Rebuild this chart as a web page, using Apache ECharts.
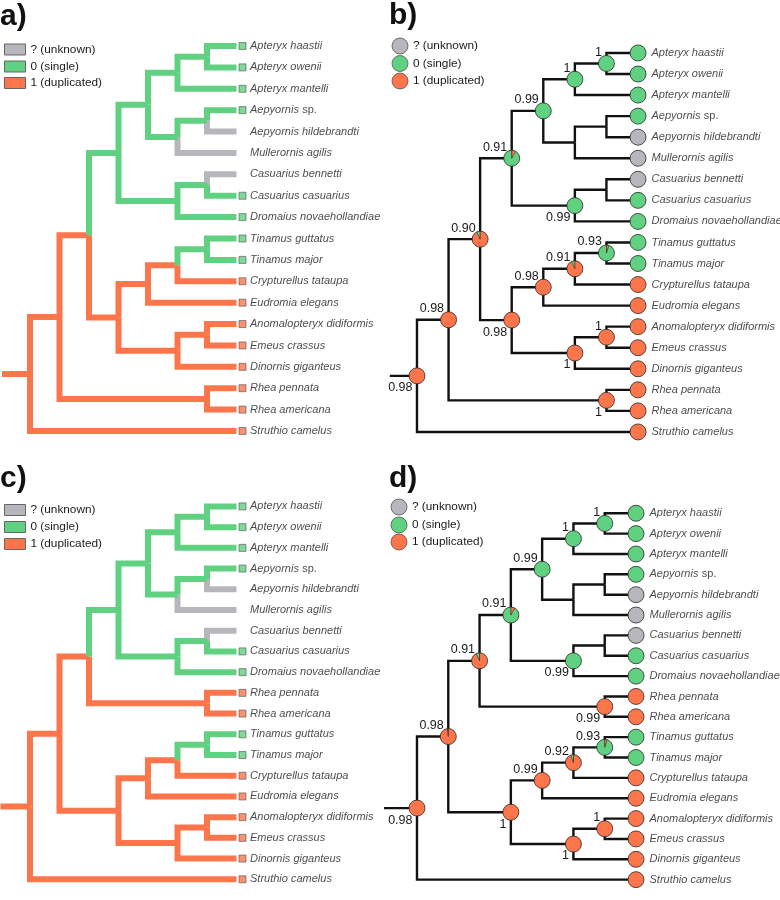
<!DOCTYPE html>
<html><head><meta charset="utf-8">
<script src="https://cdn.jsdelivr.net/npm/echarts@6/dist/echarts.min.js"></script>
<style>html,body{margin:0;padding:0;background:#fff}#c{width:780px;height:900px}</style>
</head><body><div id="c"></div>
<script>
// ---------- data ----------
const leavesAB = ["Apteryx haastii","Apteryx owenii","Apteryx mantelli","Aepyornis sp.","Aepyornis hildebrandti","Mullerornis agilis","Casuarius bennetti","Casuarius casuarius","Dromaius novaehollandiae","Tinamus guttatus","Tinamus major","Crypturellus tataupa","Eudromia elegans","Anomalopteryx didiformis","Emeus crassus","Dinornis giganteus","Rhea pennata","Rhea americana","Struthio camelus"];
const leavesCD = ["Apteryx haastii","Apteryx owenii","Apteryx mantelli","Aepyornis sp.","Aepyornis hildebrandti","Mullerornis agilis","Casuarius bennetti","Casuarius casuarius","Dromaius novaehollandiae","Rhea pennata","Rhea americana","Tinamus guttatus","Tinamus major","Crypturellus tataupa","Eudromia elegans","Anomalopteryx didiformis","Emeus crassus","Dinornis giganteus","Struthio camelus"];

const newickAB = "(((((((Apteryx haastii,Apteryx owenii)ApH,Apteryx mantelli)Apt,((Aepyornis sp.,Aepyornis hildebrandti)AepP,Mullerornis agilis)Aep)A,((Casuarius bennetti,Casuarius casuarius)CasP,Dromaius novaehollandiae)Cas)N3,((((Tinamus guttatus,Tinamus major)Tin1,Crypturellus tataupa)Tin2,Eudromia elegans)Tin3,((Anomalopteryx didiformis,Emeus crassus)Moa2,Dinornis giganteus)Moa)TM)N2,(Rhea pennata,Rhea americana)Rhea)N1,Struthio camelus)Root;";
const newickCD = "(((((((Apteryx haastii,Apteryx owenii)ApH,Apteryx mantelli)Apt,((Aepyornis sp.,Aepyornis hildebrandti)AepP,Mullerornis agilis)Aep)A,((Casuarius bennetti,Casuarius casuarius)CasP,Dromaius novaehollandiae)Cas)N3,(Rhea pennata,Rhea americana)Rhea)N2,((((Tinamus guttatus,Tinamus major)Tin1,Crypturellus tataupa)Tin2,Eudromia elegans)Tin3,((Anomalopteryx didiformis,Emeus crassus)Moa2,Dinornis giganteus)Moa)TM)N1,Struthio camelus)Root;";

const stateNames = ["? (unknown)","0 (single)","1 (duplicated)"];
const tipsSingle = ["Apteryx haastii","Apteryx owenii","Apteryx mantelli","Aepyornis sp.","Casuarius casuarius","Dromaius novaehollandiae","Tinamus guttatus","Tinamus major"];
const tipsUnknown = ["Aepyornis hildebrandti","Mullerornis agilis","Casuarius bennetti"];
const branchesSingle = ["N3","A","Apt","ApH","Aep","AepP","Cas","CasP","Tin1"];

const nodesB   = ["ApH","Apt","A","N3","Cas","N2","N1","Root","Tin1","Tin2","Tin3","TM","Moa2","Moa","Rhea"];
const supportB = ["1","1","0.99","0.91","0.99","0.90","0.98","0.98","0.93","0.91","0.98","0.98","1","1","1"];
const singleB  = [1,1,1,0.92,1,0.07,0,0,0.95,0.07,0,0,0,0,0];
const sideB    = ["a","a","a","a","b","a","a","b","a","a","a","b","a","b","b"];

const nodesD   = ["ApH","Apt","A","N3","Cas","N2","Rhea","N1","Root","TM","Tin3","Tin2","Tin1","Moa2","Moa"];
const supportD = ["1","1","0.99","0.91","0.99","0.91","0.99","0.98","0.98","1","0.99","0.92","0.93","1","1"];
const singleD  = [1,1,1,0.92,1,0.07,0,0.015,0,0,0,0.06,0.95,0,0];
const sideD    = ["a","a","a","a","b","a","b","a","b","b","a","a","a","a","b"];

// ---------- style ----------
const GREEN = '#5fd181', ORANGE = '#fd754b', GREY = '#b6b6bd';
const STATE_COL = [GREY, GREEN, ORANGE];
const FONT = '"Liberation Sans", Arial, Helvetica, sans-serif';

// ---------- tree helpers ----------
function parseNewick(s){
  let i = 0;
  function node(){
    const n = {children:[], name:''};
    if (s[i] === '('){
      i++;
      n.children.push(node());
      while (s[i] === ','){ i++; n.children.push(node()); }
      i++;
    }
    let name = '';
    while (i < s.length && !',();'.includes(s[i])) { name += s[i]; i++; }
    n.name = name.trim();
    return n;
  }
  return node();
}
function layout(newick, leaves){
  const root = parseNewick(newick);
  const list = [];
  (function rec(n, parent){
    n.parent = parent;
    if (!n.children.length){ n.h = 0; n.y = leaves.indexOf(n.name); }
    else {
      n.children.forEach(c => rec(c, n));
      n.h = 1 + Math.max(...n.children.map(c => c.h));
      n.y = n.children.reduce((s,c)=>s+c.y,0)/n.children.length;
    }
    list.push(n);
  })(root, null);
  list.forEach(n => n.x = root.h - n.h);
  return {root, list, H: root.h};
}
function tipState(name){
  if (tipsUnknown.includes(name)) return 0;
  if (tipsSingle.includes(name)) return 1;
  return 2;
}
function branchState(n){
  if (!n.children.length) return tipState(n.name);
  return branchesSingle.includes(n.name) ? 1 : 2;
}
function leafLabel(name){
  if (name.endsWith(' sp.')) return '{i|' + name.slice(0,-4) + '} {n|sp.}';
  return '{i|' + name + '}';
}

const treeAB = layout(newickAB, leavesAB);
const treeCD = layout(newickCD, leavesCD);

// ---------- panels ----------
const panels = [
  {tree: treeAB, kind:'pars', grid:{left:0.5, top:24.6, width:265.5, height:427.8}, stem:-0.95},
  {tree: treeAB, kind:'bayes', grid:{left:385.4, top:31.9, width:284.2, height:421.1}, stem:-0.86,
   nodes:nodesB, support:supportB, single:singleB, side:sideB},
  {tree: treeCD, kind:'pars', grid:{left:0.5, top:485.7, width:265.5, height:426.7}, stem:-1.0},
  {tree: treeCD, kind:'bayes', grid:{left:385.7, top:492.9, width:281.6, height:421.2}, stem:-1.08,
   nodes:nodesD, support:supportD, single:singleD, side:sideD}
];

const grids = [], xAxes = [], yAxes = [], series = [];
panels.forEach((p, k) => {
  grids.push(p.grid);
  xAxes.push({type:'value', gridIndex:k, min:-1, max:8, show:false});
  yAxes.push({type:'value', gridIndex:k, min:-1, max:19, inverse:true, show:false});
  const t = p.tree;
  const pars = p.kind === 'pars';
  // branches
  const segs = [];
  t.list.forEach(n => {
    const col = pars ? STATE_COL[branchState(n)] : '#111';
    if (n.parent){
      segs.push({coords:[[n.parent.x, n.parent.y],[n.parent.x, n.y],[n.x, n.y]], lineStyle:{color:col}});
    } else {
      segs.push({coords:[[p.stem, n.y],[n.x, n.y]], lineStyle:{color: pars ? ORANGE : '#111'}});
    }
  });
  // draw grey/other first so order stable: orange below, green above
  if (pars) segs.sort((a,b)=> (a.lineStyle.color===ORANGE?0:1) - (b.lineStyle.color===ORANGE?0:1));
  series.push({
    type:'lines', coordinateSystem:'cartesian2d', xAxisIndex:k, yAxisIndex:k, polyline:true,
    silent:true, z:1, data:segs,
    lineStyle:{width: pars ? 6 : 2.4, opacity:1, cap:'butt', join:'miter'}
  });
  const tips = t.list.filter(n => !n.children.length);
  // leaf labels
  series.push({
    type:'scatter', xAxisIndex:k, yAxisIndex:k, symbolSize:1, z:5, silent:true,
    itemStyle:{color:'rgba(0,0,0,0)'},
    data: tips.map(n => ({value:[n.x, n.y], name:n.name})),
    label:{show:true, position:'right', distance: 13, formatter: d => leafLabel(d.name),
      rich:{ i:{fontStyle:'italic', fontSize:11, fontFamily:FONT, color:'#1a1a1a'},
             n:{fontStyle:'normal', fontSize:11, fontFamily:FONT, color:'#1a1a1a'} }}
  });
  if (pars){
    const sq = tips.filter(n => tipState(n.name) !== 0);
    series.push({
      type:'scatter', xAxisIndex:k, yAxisIndex:k, symbol:'rect', symbolSize:7, symbolOffset:[6,0], z:4, silent:true,
      data: sq.map(n => ({value:[n.x, n.y], itemStyle:{color:STATE_COL[tipState(n.name)], borderColor:'#555', borderWidth:0.8}}))
    });
  } else {
    const items = [];
    tips.forEach(n => items.push({x:n.x, y:n.y, fill:STATE_COL[tipState(n.name)]}));
    p.nodes.forEach((nm, j) => {
      const n = t.list.find(m => m.name === nm);
      items.push({x:n.x, y:n.y, g:p.single[j], label:p.support[j], side:p.side[j]});
    });
    series.push({
      type:'custom', xAxisIndex:k, yAxisIndex:k, z:6, silent:true,
      data: items.map(it => [it.x, it.y]),
      renderItem: (params, api) => {
        const it = items[params.dataIndex];
        const c = api.coord([api.value(0), api.value(1)]);
        const r = 8;
        const ch = [];
        if (it.fill){
          ch.push({type:'circle', shape:{cx:c[0], cy:c[1], r}, style:{fill:it.fill, stroke:'#2a2a2a', lineWidth:0.8}});
        } else {
          const a0 = -Math.PI/2, g = it.g;
          if (g >= 1) ch.push({type:'circle', shape:{cx:c[0], cy:c[1], r}, style:{fill:GREEN}});
          else if (g <= 0) ch.push({type:'circle', shape:{cx:c[0], cy:c[1], r}, style:{fill:ORANGE}});
          else {
            ch.push({type:'sector', shape:{cx:c[0], cy:c[1], r0:0, r, startAngle:a0 - g*2*Math.PI, endAngle:a0, clockwise:true}, style:{fill:GREEN}});
            ch.push({type:'sector', shape:{cx:c[0], cy:c[1], r0:0, r, startAngle:a0, endAngle:a0 + (1-g)*2*Math.PI, clockwise:true}, style:{fill:ORANGE}});
            ch.push({type:'line', shape:{x1:c[0], y1:c[1], x2:c[0], y2:c[1]-r}, style:{stroke:'#2a2a2a', lineWidth:0.6}});
            const ae = a0 - g*2*Math.PI;
            ch.push({type:'line', shape:{x1:c[0], y1:c[1], x2:c[0]+r*Math.cos(ae), y2:c[1]+r*Math.sin(ae)}, style:{stroke:'#2a2a2a', lineWidth:0.6}});
          }
          ch.push({type:'circle', shape:{cx:c[0], cy:c[1], r}, style:{fill:null, stroke:'#2a2a2a', lineWidth:0.8}});
          ch.push({type:'text', style:{text:it.label, x:c[0]-4.5, y: it.side==='a' ? c[1]-11 : c[1]+12,
            align:'right', verticalAlign:'middle', fontSize:12.5, fontFamily:FONT, fill:'#1a1a1a'}});
        }
        return {type:'group', children:ch};
      }
    });
  }
});

// ---------- legends & panel letters ----------
const graphic = [];
function boxLegend(x, ys){
  ys.forEach((y, i) => {
    graphic.push({type:'rect', shape:{x:x, y:y-5.5, width:21, height:11}, style:{fill:STATE_COL[i], stroke:'#666', lineWidth:1}});
    graphic.push({type:'text', x:x+26, y:y, style:{text:stateNames[i], fontSize:11.8, fontFamily:FONT, fill:'#1a1a1a', verticalAlign:'middle'}});
  });
}
function circleLegend(x, ys){
  ys.forEach((y, i) => {
    graphic.push({type:'circle', shape:{cx:x, cy:y, r:8}, style:{fill:STATE_COL[i], stroke:'#555', lineWidth:0.8}});
    graphic.push({type:'text', x:x+13, y:y, style:{text:stateNames[i], fontSize:11.8, fontFamily:FONT, fill:'#1a1a1a', verticalAlign:'middle'}});
  });
}
boxLegend(4.5, [49.5, 66.5, 83]);
circleLegend(400, [46, 63.5, 81]);
boxLegend(4.5, [510, 527, 544]);
circleLegend(399, [507, 525, 542]);

const letters = [['a)',0,25],['b)',389,24],['c)',0,487],['d)',389,487]];
letters.forEach(([t,x,y]) => graphic.push({type:'text', x:x, y:y+7, style:{text:t, fontSize:30, fontWeight:'bold', fontFamily:FONT, fill:'#111', verticalAlign:'bottom'}}));

const chart = echarts.init(document.getElementById('c'), null, {renderer:'canvas'});
chart.setOption({
  animation:false,
  backgroundColor:'#fff',
  grid: grids, xAxis: xAxes, yAxis: yAxes,
  graphic: graphic,
  series: series
});
</script></body></html>
